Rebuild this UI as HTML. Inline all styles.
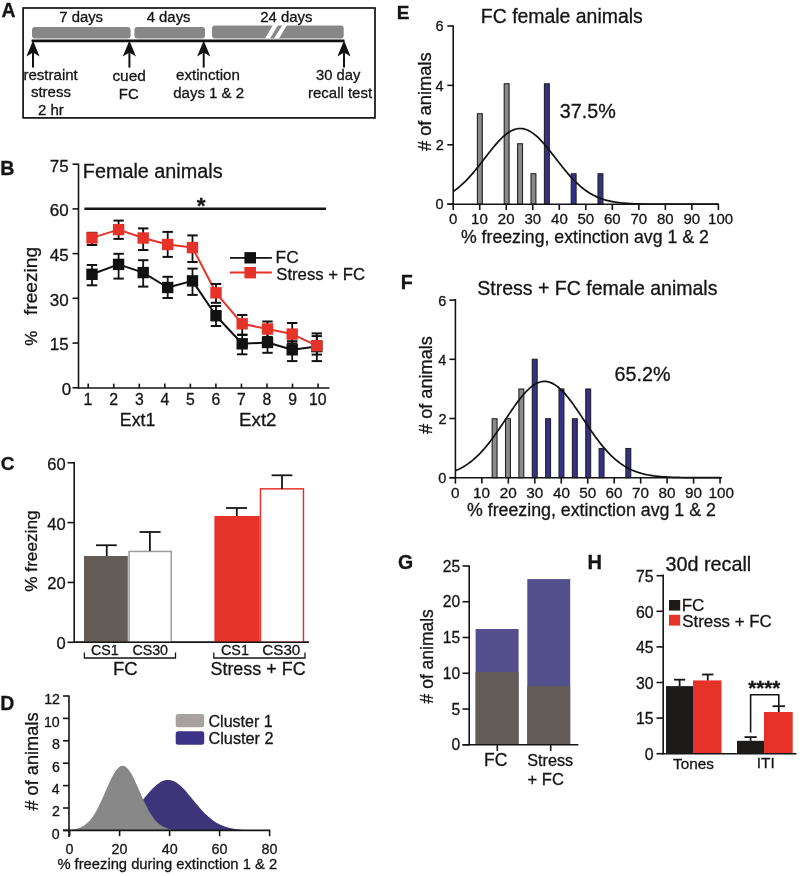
<!DOCTYPE html>
<html><head><meta charset="utf-8"><style>
html,body{margin:0;padding:0;background:#fff;}
svg{display:block;}
text{font-family:"Liberation Sans",sans-serif;stroke:#151515;stroke-width:0.3px;}
</style></head><body>
<svg style="will-change:transform" width="800" height="876" viewBox="0 0 800 876">
<rect width="800" height="876" fill="#fff"/>
<text x="1.51" y="17.00" font-size="19.40" font-weight="bold" fill="#151515">A</text>
<rect x="23.10" y="8.00" width="351.90" height="109.90" fill="none" stroke="#111" stroke-width="1.7" rx="0"/>
<rect x="32.00" y="27.00" width="98.60" height="11.50" fill="#878787" stroke="none" stroke-width="0" rx="3"/>
<rect x="134.40" y="27.00" width="70.60" height="11.50" fill="#878787" stroke="none" stroke-width="0" rx="3"/>
<rect x="212.00" y="25.60" width="131.70" height="12.90" fill="#878787" stroke="none" stroke-width="0" rx="3"/>
<path d="M265,38.6 L270,38.6 L278,25 L273,25 Z" fill="#fff" stroke="none" stroke-width="0" />
<path d="M274,38.6 L279,38.6 L287,25 L282.5,25 Z" fill="#fff" stroke="none" stroke-width="0" />
<line x1="31.60" y1="40.80" x2="344.50" y2="40.80" stroke="#111" stroke-width="2.8" stroke-linecap="butt"/>
<path d="M33,40.6 L39.6,56.6 L33,52.6 L26.4,56.6 Z" fill="#111" stroke="none" stroke-width="0" />
<line x1="33.00" y1="50.00" x2="33.00" y2="67.60" stroke="#111" stroke-width="2" stroke-linecap="butt"/>
<path d="M129.4,40.6 L136.0,56.6 L129.4,52.6 L122.80000000000001,56.6 Z" fill="#111" stroke="none" stroke-width="0" />
<line x1="129.40" y1="50.00" x2="129.40" y2="67.60" stroke="#111" stroke-width="2" stroke-linecap="butt"/>
<path d="M203.7,40.6 L210.29999999999998,56.6 L203.7,52.6 L197.1,56.6 Z" fill="#111" stroke="none" stroke-width="0" />
<line x1="203.70" y1="50.00" x2="203.70" y2="67.60" stroke="#111" stroke-width="2" stroke-linecap="butt"/>
<path d="M344,40.6 L350.6,56.6 L344,52.6 L337.4,56.6 Z" fill="#111" stroke="none" stroke-width="0" />
<line x1="344.00" y1="50.00" x2="344.00" y2="67.60" stroke="#111" stroke-width="2" stroke-linecap="butt"/>
<text x="59.26" y="22.00" font-size="14.86" font-weight="normal" fill="#151515">7 days</text>
<text x="146.70" y="22.00" font-size="14.88" font-weight="normal" fill="#151515">4 days</text>
<text x="260.25" y="22.00" font-size="14.91" font-weight="normal" fill="#151515">24 days</text>
<text x="23.52" y="80.10" font-size="15.03" font-weight="normal" fill="#151515">restraint</text>
<text x="30.95" y="97.40" font-size="15.00" font-weight="normal" fill="#151515">stress</text>
<text x="37.95" y="115.10" font-size="14.98" font-weight="normal" fill="#151515">2 hr</text>
<text x="112.38" y="81.25" font-size="15.44" font-weight="normal" fill="#151515">cued</text>
<text x="118.81" y="98.80" font-size="14.90" font-weight="normal" fill="#151515">FC</text>
<text x="176.10" y="79.70" font-size="15.12" font-weight="normal" fill="#151515">extinction</text>
<text x="173.20" y="97.60" font-size="15.02" font-weight="normal" fill="#151515">days 1 &amp; 2</text>
<text x="316.11" y="79.70" font-size="14.74" font-weight="normal" fill="#151515">30 day</text>
<text x="308.03" y="97.60" font-size="14.98" font-weight="normal" fill="#151515">recall test</text>
<text x="0.22" y="175.00" font-size="19.67" font-weight="bold" fill="#151515">B</text>
<line x1="78.50" y1="163.60" x2="78.50" y2="388.80" stroke="#151515" stroke-width="1.6" stroke-linecap="butt"/>
<line x1="72.50" y1="164.15" x2="78.50" y2="164.15" stroke="#151515" stroke-width="1.6" stroke-linecap="butt"/>
<text x="49.81" y="171.55" font-size="17.00" font-weight="normal" fill="#151515">75</text>
<line x1="72.50" y1="208.88" x2="78.50" y2="208.88" stroke="#151515" stroke-width="1.6" stroke-linecap="butt"/>
<text x="49.73" y="216.28" font-size="17.00" font-weight="normal" fill="#151515">60</text>
<line x1="72.50" y1="253.61" x2="78.50" y2="253.61" stroke="#151515" stroke-width="1.6" stroke-linecap="butt"/>
<text x="49.81" y="261.01" font-size="17.00" font-weight="normal" fill="#151515">45</text>
<line x1="72.50" y1="298.34" x2="78.50" y2="298.34" stroke="#151515" stroke-width="1.6" stroke-linecap="butt"/>
<text x="49.73" y="305.74" font-size="17.00" font-weight="normal" fill="#151515">30</text>
<line x1="72.50" y1="343.07" x2="78.50" y2="343.07" stroke="#151515" stroke-width="1.6" stroke-linecap="butt"/>
<text x="49.81" y="350.47" font-size="17.00" font-weight="normal" fill="#151515">15</text>
<line x1="72.50" y1="387.80" x2="78.50" y2="387.80" stroke="#151515" stroke-width="1.6" stroke-linecap="butt"/>
<text x="61.76" y="395.10" font-size="17.00" font-weight="normal" fill="#151515">0</text>
<line x1="78.50" y1="388.00" x2="329.50" y2="388.00" stroke="#151515" stroke-width="1.6" stroke-linecap="butt"/>
<line x1="88.20" y1="383.60" x2="88.20" y2="388.00" stroke="#151515" stroke-width="1.6" stroke-linecap="butt"/>
<text x="83.58" y="404.50" font-size="15.80" font-weight="normal" fill="#151515">1</text>
<line x1="113.74" y1="383.60" x2="113.74" y2="388.00" stroke="#151515" stroke-width="1.6" stroke-linecap="butt"/>
<text x="109.36" y="404.50" font-size="15.80" font-weight="normal" fill="#151515">2</text>
<line x1="139.28" y1="383.60" x2="139.28" y2="388.00" stroke="#151515" stroke-width="1.6" stroke-linecap="butt"/>
<text x="134.90" y="404.50" font-size="15.80" font-weight="normal" fill="#151515">3</text>
<line x1="164.82" y1="383.60" x2="164.82" y2="388.00" stroke="#151515" stroke-width="1.6" stroke-linecap="butt"/>
<text x="160.51" y="404.50" font-size="15.80" font-weight="normal" fill="#151515">4</text>
<line x1="190.36" y1="383.60" x2="190.36" y2="388.00" stroke="#151515" stroke-width="1.6" stroke-linecap="butt"/>
<text x="185.98" y="404.50" font-size="15.80" font-weight="normal" fill="#151515">5</text>
<line x1="215.90" y1="383.60" x2="215.90" y2="388.00" stroke="#151515" stroke-width="1.6" stroke-linecap="butt"/>
<text x="211.44" y="404.50" font-size="15.80" font-weight="normal" fill="#151515">6</text>
<line x1="241.44" y1="383.60" x2="241.44" y2="388.00" stroke="#151515" stroke-width="1.6" stroke-linecap="butt"/>
<text x="237.06" y="404.50" font-size="15.80" font-weight="normal" fill="#151515">7</text>
<line x1="266.98" y1="383.60" x2="266.98" y2="388.00" stroke="#151515" stroke-width="1.6" stroke-linecap="butt"/>
<text x="262.56" y="404.50" font-size="15.80" font-weight="normal" fill="#151515">8</text>
<line x1="292.52" y1="383.60" x2="292.52" y2="388.00" stroke="#151515" stroke-width="1.6" stroke-linecap="butt"/>
<text x="288.14" y="404.50" font-size="15.80" font-weight="normal" fill="#151515">9</text>
<line x1="318.06" y1="383.60" x2="318.06" y2="388.00" stroke="#151515" stroke-width="1.6" stroke-linecap="butt"/>
<text x="308.98" y="404.50" font-size="15.80" font-weight="normal" fill="#151515">10</text>
<text x="119.83" y="425.60" font-size="17.73" font-weight="normal" fill="#151515">Ext1</text>
<text x="239.10" y="426.40" font-size="18.72" font-weight="normal" fill="#151515">Ext2</text>
<text transform="translate(36.60,314.99) rotate(-90)" x="0" y="0" font-size="19.14" font-weight="normal" fill="#151515">freezing</text>
<text transform="translate(36.80,345.69) rotate(-90)" x="0" y="0" font-size="16.95" font-weight="normal" fill="#151515">%</text>
<text x="82.81" y="178.10" font-size="19.81" font-weight="normal" fill="#151515">Female animals</text>
<line x1="84.40" y1="208.80" x2="326.00" y2="208.80" stroke="#151515" stroke-width="2.4" stroke-linecap="butt"/>
<text x="196.69" y="212.60" font-size="22.63" font-weight="bold" fill="#151515">*</text>
<path d="M92.0,274.3 L118.6,264.4 L143.2,272.6 L167.7,287.5 L192.5,280.9 L216.0,315.7 L242.2,343.8 L267.5,342.5 L292.2,349.8 L316.8,346.6" fill="none" stroke="#111" stroke-width="2" stroke-linejoin="round"/>
<line x1="92.00" y1="265.00" x2="92.00" y2="285.30" stroke="#111" stroke-width="1.8" stroke-linecap="butt"/>
<line x1="86.80" y1="265.00" x2="97.20" y2="265.00" stroke="#111" stroke-width="2" stroke-linecap="butt"/>
<line x1="86.80" y1="285.30" x2="97.20" y2="285.30" stroke="#111" stroke-width="2" stroke-linecap="butt"/>
<line x1="118.60" y1="253.80" x2="118.60" y2="278.60" stroke="#111" stroke-width="1.8" stroke-linecap="butt"/>
<line x1="113.40" y1="253.80" x2="123.80" y2="253.80" stroke="#111" stroke-width="2" stroke-linecap="butt"/>
<line x1="113.40" y1="278.60" x2="123.80" y2="278.60" stroke="#111" stroke-width="2" stroke-linecap="butt"/>
<line x1="143.20" y1="260.20" x2="143.20" y2="286.60" stroke="#111" stroke-width="1.8" stroke-linecap="butt"/>
<line x1="138.00" y1="260.20" x2="148.40" y2="260.20" stroke="#111" stroke-width="2" stroke-linecap="butt"/>
<line x1="138.00" y1="286.60" x2="148.40" y2="286.60" stroke="#111" stroke-width="2" stroke-linecap="butt"/>
<line x1="167.70" y1="276.80" x2="167.70" y2="298.00" stroke="#111" stroke-width="1.8" stroke-linecap="butt"/>
<line x1="162.50" y1="276.80" x2="172.90" y2="276.80" stroke="#111" stroke-width="2" stroke-linecap="butt"/>
<line x1="162.50" y1="298.00" x2="172.90" y2="298.00" stroke="#111" stroke-width="2" stroke-linecap="butt"/>
<line x1="192.50" y1="268.60" x2="192.50" y2="294.90" stroke="#111" stroke-width="1.8" stroke-linecap="butt"/>
<line x1="187.30" y1="268.60" x2="197.70" y2="268.60" stroke="#111" stroke-width="2" stroke-linecap="butt"/>
<line x1="187.30" y1="294.90" x2="197.70" y2="294.90" stroke="#111" stroke-width="2" stroke-linecap="butt"/>
<line x1="216.00" y1="306.00" x2="216.00" y2="326.00" stroke="#111" stroke-width="1.8" stroke-linecap="butt"/>
<line x1="210.80" y1="306.00" x2="221.20" y2="306.00" stroke="#111" stroke-width="2" stroke-linecap="butt"/>
<line x1="210.80" y1="326.00" x2="221.20" y2="326.00" stroke="#111" stroke-width="2" stroke-linecap="butt"/>
<line x1="242.20" y1="335.00" x2="242.20" y2="354.30" stroke="#111" stroke-width="1.8" stroke-linecap="butt"/>
<line x1="237.00" y1="335.00" x2="247.40" y2="335.00" stroke="#111" stroke-width="2" stroke-linecap="butt"/>
<line x1="237.00" y1="354.30" x2="247.40" y2="354.30" stroke="#111" stroke-width="2" stroke-linecap="butt"/>
<line x1="267.50" y1="333.00" x2="267.50" y2="352.80" stroke="#111" stroke-width="1.8" stroke-linecap="butt"/>
<line x1="262.30" y1="333.00" x2="272.70" y2="333.00" stroke="#111" stroke-width="2" stroke-linecap="butt"/>
<line x1="262.30" y1="352.80" x2="272.70" y2="352.80" stroke="#111" stroke-width="2" stroke-linecap="butt"/>
<line x1="292.20" y1="341.20" x2="292.20" y2="361.10" stroke="#111" stroke-width="1.8" stroke-linecap="butt"/>
<line x1="287.00" y1="341.20" x2="297.40" y2="341.20" stroke="#111" stroke-width="2" stroke-linecap="butt"/>
<line x1="287.00" y1="361.10" x2="297.40" y2="361.10" stroke="#111" stroke-width="2" stroke-linecap="butt"/>
<line x1="316.80" y1="336.10" x2="316.80" y2="361.10" stroke="#111" stroke-width="1.8" stroke-linecap="butt"/>
<line x1="311.60" y1="336.10" x2="322.00" y2="336.10" stroke="#111" stroke-width="2" stroke-linecap="butt"/>
<line x1="311.60" y1="361.10" x2="322.00" y2="361.10" stroke="#111" stroke-width="2" stroke-linecap="butt"/>
<rect x="86.30" y="268.60" width="11.40" height="11.40" fill="#111" stroke="none" stroke-width="0" rx="0"/>
<rect x="112.90" y="258.70" width="11.40" height="11.40" fill="#111" stroke="none" stroke-width="0" rx="0"/>
<rect x="137.50" y="266.90" width="11.40" height="11.40" fill="#111" stroke="none" stroke-width="0" rx="0"/>
<rect x="162.00" y="281.80" width="11.40" height="11.40" fill="#111" stroke="none" stroke-width="0" rx="0"/>
<rect x="186.80" y="275.20" width="11.40" height="11.40" fill="#111" stroke="none" stroke-width="0" rx="0"/>
<rect x="210.30" y="310.00" width="11.40" height="11.40" fill="#111" stroke="none" stroke-width="0" rx="0"/>
<rect x="236.50" y="338.10" width="11.40" height="11.40" fill="#111" stroke="none" stroke-width="0" rx="0"/>
<rect x="261.80" y="336.80" width="11.40" height="11.40" fill="#111" stroke="none" stroke-width="0" rx="0"/>
<rect x="286.50" y="344.10" width="11.40" height="11.40" fill="#111" stroke="none" stroke-width="0" rx="0"/>
<rect x="311.10" y="340.90" width="11.40" height="11.40" fill="#111" stroke="none" stroke-width="0" rx="0"/>
<path d="M92.0,237.9 L118.6,229.6 L143.2,238.0 L167.7,244.5 L192.5,247.6 L216.0,292.8 L242.2,323.8 L267.5,329.0 L292.2,334.1 L316.8,345.7" fill="none" stroke="#e6332a" stroke-width="2" stroke-linejoin="round"/>
<line x1="92.00" y1="232.80" x2="92.00" y2="245.00" stroke="#111" stroke-width="1.8" stroke-linecap="butt"/>
<line x1="86.80" y1="232.80" x2="97.20" y2="232.80" stroke="#111" stroke-width="2" stroke-linecap="butt"/>
<line x1="86.80" y1="245.00" x2="97.20" y2="245.00" stroke="#111" stroke-width="2" stroke-linecap="butt"/>
<line x1="118.60" y1="220.60" x2="118.60" y2="238.90" stroke="#111" stroke-width="1.8" stroke-linecap="butt"/>
<line x1="113.40" y1="220.60" x2="123.80" y2="220.60" stroke="#111" stroke-width="2" stroke-linecap="butt"/>
<line x1="113.40" y1="238.90" x2="123.80" y2="238.90" stroke="#111" stroke-width="2" stroke-linecap="butt"/>
<line x1="143.20" y1="228.40" x2="143.20" y2="250.00" stroke="#111" stroke-width="1.8" stroke-linecap="butt"/>
<line x1="138.00" y1="228.40" x2="148.40" y2="228.40" stroke="#111" stroke-width="2" stroke-linecap="butt"/>
<line x1="138.00" y1="250.00" x2="148.40" y2="250.00" stroke="#111" stroke-width="2" stroke-linecap="butt"/>
<line x1="167.70" y1="231.90" x2="167.70" y2="256.90" stroke="#111" stroke-width="1.8" stroke-linecap="butt"/>
<line x1="162.50" y1="231.90" x2="172.90" y2="231.90" stroke="#111" stroke-width="2" stroke-linecap="butt"/>
<line x1="162.50" y1="256.90" x2="172.90" y2="256.90" stroke="#111" stroke-width="2" stroke-linecap="butt"/>
<line x1="192.50" y1="235.40" x2="192.50" y2="262.00" stroke="#111" stroke-width="1.8" stroke-linecap="butt"/>
<line x1="187.30" y1="235.40" x2="197.70" y2="235.40" stroke="#111" stroke-width="2" stroke-linecap="butt"/>
<line x1="187.30" y1="262.00" x2="197.70" y2="262.00" stroke="#111" stroke-width="2" stroke-linecap="butt"/>
<line x1="216.00" y1="284.00" x2="216.00" y2="302.80" stroke="#111" stroke-width="1.8" stroke-linecap="butt"/>
<line x1="210.80" y1="284.00" x2="221.20" y2="284.00" stroke="#111" stroke-width="2" stroke-linecap="butt"/>
<line x1="210.80" y1="302.80" x2="221.20" y2="302.80" stroke="#111" stroke-width="2" stroke-linecap="butt"/>
<line x1="242.20" y1="315.00" x2="242.20" y2="334.60" stroke="#111" stroke-width="1.8" stroke-linecap="butt"/>
<line x1="237.00" y1="315.00" x2="247.40" y2="315.00" stroke="#111" stroke-width="2" stroke-linecap="butt"/>
<line x1="237.00" y1="334.60" x2="247.40" y2="334.60" stroke="#111" stroke-width="2" stroke-linecap="butt"/>
<line x1="267.50" y1="321.50" x2="267.50" y2="336.90" stroke="#111" stroke-width="1.8" stroke-linecap="butt"/>
<line x1="262.30" y1="321.50" x2="272.70" y2="321.50" stroke="#111" stroke-width="2" stroke-linecap="butt"/>
<line x1="262.30" y1="336.90" x2="272.70" y2="336.90" stroke="#111" stroke-width="2" stroke-linecap="butt"/>
<line x1="292.20" y1="323.00" x2="292.20" y2="343.40" stroke="#111" stroke-width="1.8" stroke-linecap="butt"/>
<line x1="287.00" y1="323.00" x2="297.40" y2="323.00" stroke="#111" stroke-width="2" stroke-linecap="butt"/>
<line x1="287.00" y1="343.40" x2="297.40" y2="343.40" stroke="#111" stroke-width="2" stroke-linecap="butt"/>
<line x1="316.80" y1="333.40" x2="316.80" y2="354.60" stroke="#111" stroke-width="1.8" stroke-linecap="butt"/>
<line x1="311.60" y1="333.40" x2="322.00" y2="333.40" stroke="#111" stroke-width="2" stroke-linecap="butt"/>
<line x1="311.60" y1="354.60" x2="322.00" y2="354.60" stroke="#111" stroke-width="2" stroke-linecap="butt"/>
<rect x="86.30" y="232.20" width="11.40" height="11.40" fill="#e6332a" stroke="none" stroke-width="0" rx="0"/>
<rect x="112.90" y="223.90" width="11.40" height="11.40" fill="#e6332a" stroke="none" stroke-width="0" rx="0"/>
<rect x="137.50" y="232.30" width="11.40" height="11.40" fill="#e6332a" stroke="none" stroke-width="0" rx="0"/>
<rect x="162.00" y="238.80" width="11.40" height="11.40" fill="#e6332a" stroke="none" stroke-width="0" rx="0"/>
<rect x="186.80" y="241.90" width="11.40" height="11.40" fill="#e6332a" stroke="none" stroke-width="0" rx="0"/>
<rect x="210.30" y="287.10" width="11.40" height="11.40" fill="#e6332a" stroke="none" stroke-width="0" rx="0"/>
<rect x="236.50" y="318.10" width="11.40" height="11.40" fill="#e6332a" stroke="none" stroke-width="0" rx="0"/>
<rect x="261.80" y="323.30" width="11.40" height="11.40" fill="#e6332a" stroke="none" stroke-width="0" rx="0"/>
<rect x="286.50" y="328.40" width="11.40" height="11.40" fill="#e6332a" stroke="none" stroke-width="0" rx="0"/>
<rect x="311.10" y="340.00" width="11.40" height="11.40" fill="#e6332a" stroke="none" stroke-width="0" rx="0"/>
<line x1="230.00" y1="257.90" x2="271.90" y2="257.90" stroke="#111" stroke-width="1.8" stroke-linecap="butt"/>
<rect x="244.40" y="252.10" width="11.60" height="11.40" fill="#111" stroke="none" stroke-width="0" rx="0"/>
<text x="275.62" y="263.40" font-size="17.28" font-weight="normal" fill="#151515">FC</text>
<line x1="230.00" y1="272.50" x2="271.90" y2="272.50" stroke="#e6332a" stroke-width="1.8" stroke-linecap="butt"/>
<rect x="244.40" y="267.00" width="11.60" height="11.40" fill="#e6332a" stroke="none" stroke-width="0" rx="0"/>
<text x="276.25" y="279.60" font-size="16.73" font-weight="normal" fill="#151515">Stress + FC</text>
<text x="0.74" y="469.75" font-size="19.08" font-weight="bold" fill="#151515">C</text>
<line x1="74.20" y1="462.00" x2="74.20" y2="643.00" stroke="#151515" stroke-width="1.6" stroke-linecap="butt"/>
<line x1="67.50" y1="462.75" x2="74.20" y2="462.75" stroke="#151515" stroke-width="1.6" stroke-linecap="butt"/>
<text x="47.26" y="469.75" font-size="16.50" font-weight="normal" fill="#151515">60</text>
<line x1="67.50" y1="522.60" x2="74.20" y2="522.60" stroke="#151515" stroke-width="1.6" stroke-linecap="butt"/>
<text x="47.26" y="529.60" font-size="16.50" font-weight="normal" fill="#151515">40</text>
<line x1="67.50" y1="582.45" x2="74.20" y2="582.45" stroke="#151515" stroke-width="1.6" stroke-linecap="butt"/>
<text x="47.26" y="589.45" font-size="16.50" font-weight="normal" fill="#151515">20</text>
<line x1="67.50" y1="642.30" x2="74.20" y2="642.30" stroke="#151515" stroke-width="1.6" stroke-linecap="butt"/>
<text x="56.42" y="649.30" font-size="16.50" font-weight="normal" fill="#151515">0</text>
<line x1="74.20" y1="642.30" x2="308.80" y2="642.30" stroke="#151515" stroke-width="1.6" stroke-linecap="butt"/>
<rect x="84.00" y="556.00" width="43.80" height="86.30" fill="#645c57" stroke="none" stroke-width="0" rx="0"/>
<line x1="106.75" y1="545.25" x2="106.75" y2="556.00" stroke="#151515" stroke-width="1.8" stroke-linecap="butt"/>
<line x1="96.00" y1="545.25" x2="116.80" y2="545.25" stroke="#151515" stroke-width="1.8" stroke-linecap="butt"/>
<rect x="129.05" y="551.45" width="42.20" height="90.85" fill="#fff" stroke="#a19b99" stroke-width="1.5" rx="0"/>
<line x1="149.90" y1="532.00" x2="149.90" y2="551.00" stroke="#151515" stroke-width="1.8" stroke-linecap="butt"/>
<line x1="139.50" y1="532.00" x2="160.60" y2="532.00" stroke="#151515" stroke-width="1.8" stroke-linecap="butt"/>
<rect x="214.40" y="516.00" width="45.30" height="126.30" fill="#e6332a" stroke="none" stroke-width="0" rx="0"/>
<line x1="236.80" y1="508.00" x2="236.80" y2="516.00" stroke="#151515" stroke-width="1.8" stroke-linecap="butt"/>
<line x1="226.00" y1="508.00" x2="247.10" y2="508.00" stroke="#151515" stroke-width="1.8" stroke-linecap="butt"/>
<rect x="260.45" y="488.85" width="43.00" height="153.45" fill="#fff" stroke="#e6332a" stroke-width="1.5" rx="0"/>
<line x1="282.00" y1="475.30" x2="282.00" y2="489.00" stroke="#151515" stroke-width="1.8" stroke-linecap="butt"/>
<line x1="271.60" y1="475.30" x2="292.40" y2="475.30" stroke="#151515" stroke-width="1.8" stroke-linecap="butt"/>
<line x1="74.20" y1="642.30" x2="308.80" y2="642.30" stroke="#151515" stroke-width="1.6" stroke-linecap="butt"/>
<text x="90.89" y="655.30" font-size="14.27" font-weight="normal" fill="#151515">CS1</text>
<text x="132.39" y="655.30" font-size="14.24" font-weight="normal" fill="#151515">CS30</text>
<text x="221.03" y="655.40" font-size="14.35" font-weight="normal" fill="#151515">CS1</text>
<text x="262.24" y="655.40" font-size="15.22" font-weight="normal" fill="#151515">CS30</text>
<path d="M84.4,652.5 L84.4,658 L175.5,658 L175.5,652.5" fill="none" stroke="#151515" stroke-width="1.3" />
<path d="M213.8,652.5 L213.8,658 L305,658 L305,652.5" fill="none" stroke="#151515" stroke-width="1.3" />
<text x="113.02" y="675.40" font-size="18.52" font-weight="normal" fill="#151515">FC</text>
<text x="210.44" y="674.60" font-size="17.94" font-weight="normal" fill="#151515">Stress + FC</text>
<text transform="translate(36.80,591.70) rotate(-90)" x="0" y="0" font-size="17.19" font-weight="normal" fill="#151515">% freezing</text>
<text x="0.23" y="709.50" font-size="19.51" font-weight="bold" fill="#151515">D</text>
<path d="M69,830.4 L69.00,830.38 L70.26,830.38 L71.51,830.37 L72.77,830.36 L74.03,830.36 L75.28,830.35 L76.54,830.34 L77.79,830.32 L79.05,830.31 L80.31,830.29 L81.56,830.27 L82.82,830.25 L84.08,830.22 L85.33,830.19 L86.59,830.15 L87.84,830.10 L89.10,830.05 L90.36,829.99 L91.61,829.93 L92.87,829.85 L94.12,829.76 L95.38,829.66 L96.64,829.54 L97.89,829.41 L99.15,829.26 L100.41,829.09 L101.66,828.91 L102.92,828.70 L104.17,828.46 L105.43,828.20 L106.69,827.90 L107.94,827.58 L109.20,827.22 L110.46,826.83 L111.71,826.40 L112.97,825.92 L114.22,825.40 L115.48,824.84 L116.74,824.23 L117.99,823.57 L119.25,822.86 L120.51,822.09 L121.76,821.27 L123.02,820.39 L124.28,819.46 L125.53,818.47 L126.79,817.42 L128.04,816.32 L129.30,815.16 L130.56,813.95 L131.81,812.69 L133.07,811.37 L134.32,810.02 L135.58,808.62 L136.84,807.18 L138.09,805.71 L139.35,804.21 L140.61,802.69 L141.86,801.16 L143.12,799.62 L144.38,798.09 L145.63,796.56 L146.89,795.05 L148.14,793.56 L149.40,792.11 L150.66,790.70 L151.91,789.34 L153.17,788.05 L154.43,786.82 L155.68,785.67 L156.94,784.61 L158.19,783.64 L159.45,782.77 L160.71,782.00 L161.96,781.35 L163.22,780.82 L164.47,780.40 L165.73,780.11 L166.99,779.94 L168.24,779.90 L169.50,779.99 L170.76,780.21 L172.01,780.55 L173.27,781.01 L174.53,781.59 L175.78,782.29 L177.04,783.09 L178.29,784.00 L179.55,785.01 L180.81,786.11 L182.06,787.29 L183.32,788.54 L184.57,789.86 L185.83,791.24 L187.09,792.67 L188.34,794.13 L189.60,795.63 L190.86,797.15 L192.11,798.68 L193.37,800.22 L194.62,801.76 L195.88,803.29 L197.14,804.80 L198.39,806.28 L199.65,807.74 L200.91,809.16 L202.16,810.55 L203.42,811.89 L204.68,813.18 L205.93,814.43 L207.19,815.62 L208.44,816.75 L209.70,817.84 L210.96,818.86 L212.21,819.83 L213.47,820.74 L214.72,821.59 L215.98,822.39 L217.24,823.14 L218.49,823.83 L219.75,824.47 L221.01,825.07 L222.26,825.61 L223.52,826.11 L224.78,826.57 L226.03,826.99 L227.29,827.37 L228.54,827.71 L229.80,828.02 L231.06,828.30 L232.31,828.55 L233.57,828.78 L234.82,828.98 L236.08,829.16 L237.34,829.32 L238.59,829.46 L239.85,829.59 L241.11,829.70 L242.36,829.79 L243.62,829.88 L244.88,829.95 L246.13,830.02 L247.39,830.07 L248.64,830.12 L249.90,830.16 L251.16,830.20 L252.41,830.23 L253.67,830.26 L254.93,830.28 L256.18,830.30 L257.44,830.32 L258.69,830.33 L259.95,830.34 L261.21,830.35 L262.46,830.36 L263.72,830.37 L264.98,830.37 L266.23,830.38 L267.49,830.38 L268.74,830.38 L270.00,830.39 L270,830.4 Z" fill="#3d3479" stroke="none" stroke-width="0" />
<path d="M69,830.4 L69.00,829.95 L70.26,829.84 L71.51,829.69 L72.77,829.52 L74.03,829.31 L75.28,829.06 L76.54,828.76 L77.79,828.40 L79.05,827.97 L80.31,827.47 L81.56,826.89 L82.82,826.22 L84.08,825.44 L85.33,824.56 L86.59,823.55 L87.84,822.41 L89.10,821.13 L90.36,819.71 L91.61,818.13 L92.87,816.40 L94.12,814.51 L95.38,812.47 L96.64,810.27 L97.89,807.93 L99.15,805.45 L100.41,802.85 L101.66,800.14 L102.92,797.35 L104.17,794.49 L105.43,791.61 L106.69,788.72 L107.94,785.85 L109.20,783.05 L110.46,780.35 L111.71,777.78 L112.97,775.38 L114.22,773.18 L115.48,771.22 L116.74,769.53 L117.99,768.13 L119.25,767.04 L120.51,766.29 L121.76,765.88 L123.02,765.82 L124.28,766.11 L125.53,766.75 L126.79,767.73 L128.04,769.03 L129.30,770.63 L130.56,772.50 L131.81,774.62 L133.07,776.96 L134.32,779.47 L135.58,782.14 L136.84,784.91 L138.09,787.76 L139.35,790.64 L140.61,793.53 L141.86,796.40 L143.12,799.22 L144.38,801.96 L145.63,804.60 L146.89,807.12 L148.14,809.51 L149.40,811.75 L150.66,813.85 L151.91,815.79 L153.17,817.57 L154.43,819.20 L155.68,820.67 L156.94,822.00 L158.19,823.18 L159.45,824.24 L160.71,825.16 L161.96,825.97 L163.22,826.68 L164.47,827.29 L165.73,827.82 L166.99,828.26 L168.24,828.64 L169.50,828.96 L170.76,829.23 L172.01,829.45 L173.27,829.64 L174.53,829.79 L175.78,829.92 L177.04,830.02 L178.29,830.10 L179.55,830.16 L180.81,830.22 L182.06,830.26 L183.32,830.29 L184.57,830.32 L185.83,830.34 L187.09,830.35 L188.34,830.36 L189.60,830.37 L190.86,830.38 L192.11,830.38 L193.37,830.39 L194.62,830.39 L195.88,830.39 L197.14,830.40 L198.39,830.40 L199.65,830.40 L200.91,830.40 L202.16,830.40 L203.42,830.40 L204.68,830.40 L205.93,830.40 L207.19,830.40 L208.44,830.40 L209.70,830.40 L210.96,830.40 L212.21,830.40 L213.47,830.40 L214.72,830.40 L215.98,830.40 L217.24,830.40 L218.49,830.40 L219.75,830.40 L221.01,830.40 L222.26,830.40 L223.52,830.40 L224.78,830.40 L226.03,830.40 L227.29,830.40 L228.54,830.40 L229.80,830.40 L231.06,830.40 L232.31,830.40 L233.57,830.40 L234.82,830.40 L236.08,830.40 L237.34,830.40 L238.59,830.40 L239.85,830.40 L241.11,830.40 L242.36,830.40 L243.62,830.40 L244.88,830.40 L246.13,830.40 L247.39,830.40 L248.64,830.40 L249.90,830.40 L251.16,830.40 L252.41,830.40 L253.67,830.40 L254.93,830.40 L256.18,830.40 L257.44,830.40 L258.69,830.40 L259.95,830.40 L261.21,830.40 L262.46,830.40 L263.72,830.40 L264.98,830.40 L266.23,830.40 L267.49,830.40 L268.74,830.40 L270.00,830.40 L270,830.4 Z" fill="#888888" stroke="none" stroke-width="0" />
<line x1="69.00" y1="695.50" x2="69.00" y2="837.00" stroke="#151515" stroke-width="1.6" stroke-linecap="butt"/>
<line x1="63.00" y1="696.00" x2="69.00" y2="696.00" stroke="#151515" stroke-width="1.6" stroke-linecap="butt"/>
<text x="44.15" y="704.30" font-size="14.20" font-weight="normal" fill="#151515">12</text>
<line x1="63.00" y1="718.40" x2="69.00" y2="718.40" stroke="#151515" stroke-width="1.6" stroke-linecap="butt"/>
<text x="43.94" y="726.70" font-size="14.20" font-weight="normal" fill="#151515">10</text>
<line x1="63.00" y1="740.80" x2="69.00" y2="740.80" stroke="#151515" stroke-width="1.6" stroke-linecap="butt"/>
<text x="51.89" y="749.10" font-size="14.20" font-weight="normal" fill="#151515">8</text>
<line x1="63.00" y1="763.20" x2="69.00" y2="763.20" stroke="#151515" stroke-width="1.6" stroke-linecap="butt"/>
<text x="51.89" y="771.50" font-size="14.20" font-weight="normal" fill="#151515">6</text>
<line x1="63.00" y1="785.60" x2="69.00" y2="785.60" stroke="#151515" stroke-width="1.6" stroke-linecap="butt"/>
<text x="51.75" y="793.90" font-size="14.20" font-weight="normal" fill="#151515">4</text>
<line x1="63.00" y1="808.00" x2="69.00" y2="808.00" stroke="#151515" stroke-width="1.6" stroke-linecap="butt"/>
<text x="52.03" y="816.30" font-size="14.20" font-weight="normal" fill="#151515">2</text>
<line x1="63.00" y1="830.40" x2="69.00" y2="830.40" stroke="#151515" stroke-width="1.6" stroke-linecap="butt"/>
<text x="51.82" y="838.70" font-size="14.20" font-weight="normal" fill="#151515">0</text>
<line x1="63.00" y1="830.40" x2="270.30" y2="830.40" stroke="#151515" stroke-width="1.6" stroke-linecap="butt"/>
<line x1="69.60" y1="830.40" x2="69.60" y2="836.20" stroke="#151515" stroke-width="1.6" stroke-linecap="butt"/>
<text x="65.60" y="854.40" font-size="14.30" font-weight="normal" fill="#151515">0</text>
<line x1="119.60" y1="830.40" x2="119.60" y2="836.20" stroke="#151515" stroke-width="1.6" stroke-linecap="butt"/>
<text x="111.56" y="854.40" font-size="14.30" font-weight="normal" fill="#151515">20</text>
<line x1="169.60" y1="830.40" x2="169.60" y2="836.20" stroke="#151515" stroke-width="1.6" stroke-linecap="butt"/>
<text x="161.77" y="854.40" font-size="14.30" font-weight="normal" fill="#151515">40</text>
<line x1="219.60" y1="830.40" x2="219.60" y2="836.20" stroke="#151515" stroke-width="1.6" stroke-linecap="butt"/>
<text x="211.56" y="854.40" font-size="14.30" font-weight="normal" fill="#151515">60</text>
<line x1="269.60" y1="830.40" x2="269.60" y2="836.20" stroke="#151515" stroke-width="1.6" stroke-linecap="butt"/>
<text x="261.59" y="854.40" font-size="14.30" font-weight="normal" fill="#151515">80</text>
<text x="57.38" y="868.80" font-size="14.75" font-weight="normal" fill="#151515">% freezing during extinction 1 &amp; 2</text>
<text transform="translate(37.80,810.59) rotate(-90)" x="0" y="0" font-size="18.22" font-weight="normal" fill="#151515"># of animals</text>
<rect x="175.70" y="714.00" width="28.50" height="13.20" fill="#a8a1a1" stroke="none" stroke-width="0" rx="2.5"/>
<rect x="175.70" y="731.30" width="28.50" height="13.40" fill="#3c3387" stroke="none" stroke-width="0" rx="2.5"/>
<text x="208.50" y="726.75" font-size="16.06" font-weight="normal" fill="#151515">Cluster 1</text>
<text x="208.49" y="743.70" font-size="16.27" font-weight="normal" fill="#151515">Cluster 2</text>
<text x="396.76" y="19.40" font-size="19.03" font-weight="bold" fill="#151515">E</text>
<rect x="477.40" y="113.75" width="4.90" height="90.45" fill="#8a8a8a" stroke="#222" stroke-width="1.1" rx="0"/>
<rect x="504.20" y="83.75" width="4.90" height="120.45" fill="#8a8a8a" stroke="#222" stroke-width="1.1" rx="0"/>
<rect x="517.60" y="143.75" width="4.90" height="60.45" fill="#8a8a8a" stroke="#222" stroke-width="1.1" rx="0"/>
<rect x="531.00" y="173.75" width="4.90" height="30.45" fill="#8a8a8a" stroke="#222" stroke-width="1.1" rx="0"/>
<rect x="544.40" y="83.75" width="4.90" height="120.45" fill="#35318a" stroke="#222" stroke-width="1.1" rx="0"/>
<rect x="571.20" y="173.75" width="4.90" height="30.45" fill="#35318a" stroke="#222" stroke-width="1.1" rx="0"/>
<rect x="598.00" y="173.75" width="4.90" height="30.45" fill="#35318a" stroke="#222" stroke-width="1.1" rx="0"/>
<path d="M453.20,191.49 L454.31,190.73 L455.41,189.93 L456.51,189.11 L457.62,188.24 L458.72,187.35 L459.83,186.42 L460.94,185.46 L462.04,184.47 L463.14,183.45 L464.25,182.39 L465.35,181.30 L466.46,180.19 L467.56,179.04 L468.67,177.86 L469.77,176.65 L470.88,175.42 L471.99,174.16 L473.09,172.87 L474.19,171.56 L475.30,170.23 L476.40,168.88 L477.51,167.52 L478.62,166.13 L479.72,164.73 L480.82,163.33 L481.93,161.91 L483.03,160.48 L484.14,159.05 L485.25,157.62 L486.35,156.19 L487.45,154.77 L488.56,153.35 L489.66,151.94 L490.77,150.55 L491.88,149.17 L492.98,147.81 L494.08,146.47 L495.19,145.16 L496.29,143.88 L497.40,142.63 L498.50,141.41 L499.61,140.23 L500.71,139.10 L501.82,138.01 L502.93,136.96 L504.03,135.97 L505.13,135.02 L506.24,134.14 L507.34,133.31 L508.45,132.54 L509.56,131.83 L510.66,131.19 L511.76,130.61 L512.87,130.10 L513.98,129.65 L515.08,129.28 L516.18,128.98 L517.29,128.75 L518.39,128.60 L519.50,128.51 L520.61,128.51 L521.71,128.57 L522.82,128.71 L523.92,128.92 L525.02,129.20 L526.13,129.56 L527.24,129.98 L528.34,130.47 L529.44,131.04 L530.55,131.66 L531.65,132.36 L532.76,133.11 L533.87,133.93 L534.97,134.80 L536.08,135.73 L537.18,136.71 L538.28,137.74 L539.39,138.82 L540.50,139.95 L541.60,141.12 L542.71,142.32 L543.81,143.56 L544.91,144.84 L546.02,146.14 L547.12,147.47 L548.23,148.83 L549.34,150.20 L550.44,151.59 L551.54,153.00 L552.65,154.41 L553.75,155.84 L554.86,157.27 L555.97,158.70 L557.07,160.13 L558.17,161.55 L559.28,162.97 L560.38,164.39 L561.49,165.79 L562.60,167.17 L563.70,168.55 L564.81,169.90 L565.91,171.24 L567.01,172.55 L568.12,173.84 L569.23,175.11 L570.33,176.35 L571.43,177.56 L572.54,178.75 L573.64,179.90 L574.75,181.03 L575.86,182.13 L576.96,183.19 L578.07,184.22 L579.17,185.22 L580.27,186.19 L581.38,187.12 L582.49,188.03 L583.59,188.90 L584.69,189.73 L585.80,190.54 L586.90,191.31 L588.01,192.05 L589.12,192.76 L590.22,193.43 L591.33,194.08 L592.43,194.70 L593.53,195.29 L594.64,195.85 L595.75,196.38 L596.85,196.89 L597.96,197.37 L599.06,197.82 L600.16,198.25 L601.27,198.66 L602.38,199.04 L603.48,199.40 L604.59,199.74 L605.69,200.07 L606.79,200.37 L607.90,200.65 L609.00,200.91 L610.11,201.16 L611.22,201.39 L612.32,201.61 L613.42,201.81 L614.53,202.00 L615.63,202.18 L616.74,202.34 L617.85,202.49 L618.95,202.64 L620.05,202.77 L621.16,202.89 L622.26,203.00 L623.37,203.10 L624.48,203.20 L625.58,203.29 L626.68,203.37 L627.79,203.44 L628.89,203.51 L630.00,203.57 L631.11,203.63 L632.21,203.69 L633.32,203.73 L634.42,203.78 L635.52,203.82 L636.63,203.86 L637.74,203.89 L638.84,203.92 L639.95,203.95 L641.05,203.97 L642.15,204.00 L643.26,204.02 L644.37,204.04 L645.47,204.05 L646.58,204.07 L647.68,204.08 L648.78,204.09 L649.89,204.11 L651.00,204.12 L652.10,204.13 L653.21,204.13 L654.31,204.14 L655.41,204.15 L656.52,204.15 L657.62,204.16 L658.73,204.16 L659.84,204.17 L660.94,204.17 L662.04,204.17 L663.15,204.18 L664.25,204.18 L665.36,204.18 L666.47,204.18 L667.57,204.19 L668.67,204.19 L669.78,204.19 L670.88,204.19 L671.99,204.19 L673.10,204.19 L674.20,204.19 L675.31,204.19 L676.41,204.20 L677.51,204.20 L678.62,204.20 L679.73,204.20 L680.83,204.20 L681.93,204.20 L683.04,204.20 L684.14,204.20 L685.25,204.20 L686.36,204.20 L687.46,204.20 L688.57,204.20 L689.67,204.20 L690.77,204.20 L691.88,204.20 L692.99,204.20 L694.09,204.20 L695.19,204.20 L696.30,204.20 L697.40,204.20 L698.51,204.20 L699.62,204.20 L700.72,204.20 L701.83,204.20 L702.93,204.20 L704.03,204.20 L705.14,204.20 L706.25,204.20 L707.35,204.20 L708.46,204.20 L709.56,204.20 L710.66,204.20 L711.77,204.20 L712.88,204.20 L713.98,204.20 L715.09,204.20 L716.19,204.20 L717.30,204.20 L718.40,204.20" fill="none" stroke="#111" stroke-width="1.7" />
<line x1="453.20" y1="25.40" x2="453.20" y2="204.20" stroke="#151515" stroke-width="1.6" stroke-linecap="butt"/>
<line x1="447.30" y1="26.00" x2="453.20" y2="26.00" stroke="#151515" stroke-width="1.6" stroke-linecap="butt"/>
<text x="435.53" y="31.20" font-size="14.50" font-weight="normal" fill="#151515">6</text>
<line x1="447.30" y1="85.40" x2="453.20" y2="85.40" stroke="#151515" stroke-width="1.6" stroke-linecap="butt"/>
<text x="435.39" y="90.60" font-size="14.50" font-weight="normal" fill="#151515">4</text>
<line x1="447.30" y1="144.80" x2="453.20" y2="144.80" stroke="#151515" stroke-width="1.6" stroke-linecap="butt"/>
<text x="435.68" y="150.00" font-size="14.50" font-weight="normal" fill="#151515">2</text>
<line x1="447.30" y1="204.20" x2="453.20" y2="204.20" stroke="#151515" stroke-width="1.6" stroke-linecap="butt"/>
<text x="435.46" y="209.40" font-size="14.50" font-weight="normal" fill="#151515">0</text>
<line x1="447.30" y1="204.20" x2="718.80" y2="204.20" stroke="#151515" stroke-width="1.6" stroke-linecap="butt"/>
<line x1="453.20" y1="204.20" x2="453.20" y2="210.00" stroke="#151515" stroke-width="1.6" stroke-linecap="butt"/>
<text x="449.00" y="223.90" font-size="15.00" font-weight="normal" fill="#151515">0</text>
<line x1="479.72" y1="204.20" x2="479.72" y2="210.00" stroke="#151515" stroke-width="1.6" stroke-linecap="butt"/>
<text x="471.09" y="223.90" font-size="15.00" font-weight="normal" fill="#151515">10</text>
<line x1="506.24" y1="204.20" x2="506.24" y2="210.00" stroke="#151515" stroke-width="1.6" stroke-linecap="butt"/>
<text x="497.80" y="223.90" font-size="15.00" font-weight="normal" fill="#151515">20</text>
<line x1="532.76" y1="204.20" x2="532.76" y2="210.00" stroke="#151515" stroke-width="1.6" stroke-linecap="butt"/>
<text x="524.40" y="223.90" font-size="15.00" font-weight="normal" fill="#151515">30</text>
<line x1="559.28" y1="204.20" x2="559.28" y2="210.00" stroke="#151515" stroke-width="1.6" stroke-linecap="butt"/>
<text x="551.07" y="223.90" font-size="15.00" font-weight="normal" fill="#151515">40</text>
<line x1="585.80" y1="204.20" x2="585.80" y2="210.00" stroke="#151515" stroke-width="1.6" stroke-linecap="butt"/>
<text x="577.44" y="223.90" font-size="15.00" font-weight="normal" fill="#151515">50</text>
<line x1="612.32" y1="204.20" x2="612.32" y2="210.00" stroke="#151515" stroke-width="1.6" stroke-linecap="butt"/>
<text x="603.88" y="223.90" font-size="15.00" font-weight="normal" fill="#151515">60</text>
<line x1="638.84" y1="204.20" x2="638.84" y2="210.00" stroke="#151515" stroke-width="1.6" stroke-linecap="butt"/>
<text x="630.40" y="223.90" font-size="15.00" font-weight="normal" fill="#151515">70</text>
<line x1="665.36" y1="204.20" x2="665.36" y2="210.00" stroke="#151515" stroke-width="1.6" stroke-linecap="butt"/>
<text x="656.96" y="223.90" font-size="15.00" font-weight="normal" fill="#151515">80</text>
<line x1="691.88" y1="204.20" x2="691.88" y2="210.00" stroke="#151515" stroke-width="1.6" stroke-linecap="butt"/>
<text x="683.48" y="223.90" font-size="15.00" font-weight="normal" fill="#151515">90</text>
<line x1="718.40" y1="204.20" x2="718.40" y2="210.00" stroke="#151515" stroke-width="1.6" stroke-linecap="butt"/>
<text x="708.11" y="223.90" font-size="15.00" font-weight="normal" fill="#151515">100</text>
<text x="460.98" y="242.80" font-size="17.70" font-weight="normal" fill="#151515">% freezing, extinction avg 1 &amp; 2</text>
<text x="480.85" y="22.50" font-size="19.43" font-weight="normal" fill="#151515">FC female animals</text>
<text x="559.71" y="117.60" font-size="19.75" font-weight="normal" fill="#151515">37.5%</text>
<text transform="translate(430.50,151.09) rotate(-90)" x="0" y="0" font-size="18.32" font-weight="normal" fill="#151515"># of animals</text>
<text x="400.63" y="288.75" font-size="19.61" font-weight="bold" fill="#151515">F</text>
<rect x="492.16" y="418.75" width="4.90" height="58.95" fill="#8a8a8a" stroke="#222" stroke-width="1.1" rx="0"/>
<rect x="505.53" y="418.75" width="4.90" height="58.95" fill="#8a8a8a" stroke="#222" stroke-width="1.1" rx="0"/>
<rect x="518.90" y="389.00" width="4.90" height="88.70" fill="#8a8a8a" stroke="#222" stroke-width="1.1" rx="0"/>
<rect x="532.27" y="359.25" width="4.90" height="118.45" fill="#35318a" stroke="#222" stroke-width="1.1" rx="0"/>
<rect x="545.64" y="418.75" width="4.90" height="58.95" fill="#35318a" stroke="#222" stroke-width="1.1" rx="0"/>
<rect x="559.01" y="389.00" width="4.90" height="88.70" fill="#35318a" stroke="#222" stroke-width="1.1" rx="0"/>
<rect x="572.38" y="418.75" width="4.90" height="58.95" fill="#35318a" stroke="#222" stroke-width="1.1" rx="0"/>
<rect x="585.75" y="389.00" width="4.90" height="88.70" fill="#35318a" stroke="#222" stroke-width="1.1" rx="0"/>
<rect x="599.12" y="448.50" width="4.90" height="29.20" fill="#35318a" stroke="#222" stroke-width="1.1" rx="0"/>
<rect x="625.86" y="448.50" width="4.90" height="29.20" fill="#35318a" stroke="#222" stroke-width="1.1" rx="0"/>
<path d="M455.40,470.74 L456.50,470.27 L457.61,469.78 L458.71,469.27 L459.81,468.73 L460.91,468.16 L462.02,467.56 L463.12,466.94 L464.22,466.28 L465.32,465.60 L466.43,464.88 L467.53,464.14 L468.63,463.36 L469.74,462.55 L470.84,461.71 L471.94,460.83 L473.04,459.92 L474.15,458.98 L475.25,458.00 L476.35,456.99 L477.45,455.94 L478.56,454.86 L479.66,453.74 L480.76,452.59 L481.86,451.41 L482.97,450.19 L484.07,448.94 L485.17,447.65 L486.28,446.33 L487.38,444.99 L488.48,443.61 L489.58,442.20 L490.69,440.76 L491.79,439.30 L492.89,437.81 L493.99,436.30 L495.10,434.76 L496.20,433.20 L497.30,431.62 L498.41,430.03 L499.51,428.42 L500.61,426.79 L501.71,425.16 L502.82,423.51 L503.92,421.86 L505.02,420.21 L506.12,418.55 L507.23,416.89 L508.33,415.24 L509.43,413.60 L510.54,411.96 L511.64,410.34 L512.74,408.73 L513.84,407.14 L514.95,405.58 L516.05,404.03 L517.15,402.52 L518.25,401.03 L519.36,399.58 L520.46,398.17 L521.56,396.79 L522.67,395.46 L523.77,394.17 L524.87,392.93 L525.97,391.74 L527.08,390.61 L528.18,389.53 L529.28,388.51 L530.38,387.55 L531.49,386.65 L532.59,385.82 L533.69,385.06 L534.79,384.36 L535.90,383.73 L537.00,383.18 L538.10,382.70 L539.21,382.29 L540.31,381.96 L541.41,381.70 L542.51,381.53 L543.62,381.43 L544.72,381.40 L545.82,381.46 L546.92,381.59 L548.03,381.79 L549.13,382.08 L550.23,382.44 L551.34,382.87 L552.44,383.38 L553.54,383.96 L554.64,384.62 L555.75,385.34 L556.85,386.13 L557.95,386.99 L559.05,387.91 L560.16,388.89 L561.26,389.94 L562.36,391.04 L563.47,392.19 L564.57,393.40 L565.67,394.66 L566.77,395.97 L567.88,397.32 L568.98,398.71 L570.08,400.14 L571.18,401.60 L572.29,403.10 L573.39,404.62 L574.49,406.18 L575.60,407.75 L576.70,409.35 L577.80,410.96 L578.90,412.59 L580.01,414.23 L581.11,415.88 L582.21,417.53 L583.31,419.19 L584.42,420.84 L585.52,422.50 L586.62,424.14 L587.73,425.79 L588.83,427.42 L589.93,429.04 L591.03,430.64 L592.14,432.23 L593.24,433.80 L594.34,435.35 L595.44,436.88 L596.55,438.38 L597.65,439.86 L598.75,441.32 L599.85,442.74 L600.96,444.14 L602.06,445.51 L603.16,446.84 L604.27,448.15 L605.37,449.42 L606.47,450.66 L607.57,451.87 L608.68,453.04 L609.78,454.17 L610.88,455.28 L611.98,456.35 L613.09,457.38 L614.19,458.38 L615.29,459.34 L616.40,460.28 L617.50,461.17 L618.60,462.04 L619.70,462.87 L620.81,463.66 L621.91,464.43 L623.01,465.16 L624.11,465.87 L625.22,466.54 L626.32,467.18 L627.42,467.79 L628.53,468.38 L629.63,468.94 L630.73,469.47 L631.83,469.97 L632.94,470.45 L634.04,470.91 L635.14,471.34 L636.24,471.75 L637.35,472.14 L638.45,472.50 L639.55,472.85 L640.65,473.18 L641.76,473.48 L642.86,473.77 L643.96,474.05 L645.07,474.30 L646.17,474.55 L647.27,474.77 L648.37,474.99 L649.48,475.18 L650.58,475.37 L651.68,475.55 L652.78,475.71 L653.89,475.86 L654.99,476.00 L656.09,476.13 L657.20,476.26 L658.30,476.37 L659.40,476.48 L660.50,476.58 L661.61,476.67 L662.71,476.75 L663.81,476.83 L664.91,476.90 L666.02,476.97 L667.12,477.03 L668.22,477.09 L669.33,477.14 L670.43,477.19 L671.53,477.24 L672.63,477.28 L673.74,477.32 L674.84,477.35 L675.94,477.38 L677.04,477.41 L678.15,477.44 L679.25,477.46 L680.35,477.49 L681.46,477.51 L682.56,477.52 L683.66,477.54 L684.76,477.56 L685.87,477.57 L686.97,477.58 L688.07,477.59 L689.17,477.61 L690.28,477.61 L691.38,477.62 L692.48,477.63 L693.59,477.64 L694.69,477.64 L695.79,477.65 L696.89,477.66 L698.00,477.66 L699.10,477.66 L700.20,477.67 L701.30,477.67 L702.41,477.67 L703.51,477.68 L704.61,477.68 L705.71,477.68 L706.82,477.68 L707.92,477.69 L709.02,477.69 L710.13,477.69 L711.23,477.69 L712.33,477.69 L713.43,477.69 L714.54,477.69 L715.64,477.69 L716.74,477.69 L717.84,477.70 L718.95,477.70 L720.05,477.70" fill="none" stroke="#111" stroke-width="1.7" />
<line x1="455.40" y1="298.90" x2="455.40" y2="477.70" stroke="#151515" stroke-width="1.6" stroke-linecap="butt"/>
<line x1="449.40" y1="300.10" x2="455.40" y2="300.10" stroke="#151515" stroke-width="1.6" stroke-linecap="butt"/>
<text x="438.33" y="305.70" font-size="14.50" font-weight="normal" fill="#151515">6</text>
<line x1="449.40" y1="359.30" x2="455.40" y2="359.30" stroke="#151515" stroke-width="1.6" stroke-linecap="butt"/>
<text x="438.19" y="364.90" font-size="14.50" font-weight="normal" fill="#151515">4</text>
<line x1="449.40" y1="418.50" x2="455.40" y2="418.50" stroke="#151515" stroke-width="1.6" stroke-linecap="butt"/>
<text x="438.48" y="424.10" font-size="14.50" font-weight="normal" fill="#151515">2</text>
<line x1="449.40" y1="477.70" x2="455.40" y2="477.70" stroke="#151515" stroke-width="1.6" stroke-linecap="butt"/>
<text x="438.26" y="483.30" font-size="14.50" font-weight="normal" fill="#151515">0</text>
<line x1="449.40" y1="477.70" x2="722.00" y2="477.70" stroke="#151515" stroke-width="1.6" stroke-linecap="butt"/>
<line x1="455.40" y1="477.70" x2="455.40" y2="483.60" stroke="#151515" stroke-width="1.6" stroke-linecap="butt"/>
<text x="451.12" y="497.70" font-size="15.30" font-weight="normal" fill="#151515">0</text>
<line x1="481.86" y1="477.70" x2="481.86" y2="483.60" stroke="#151515" stroke-width="1.6" stroke-linecap="butt"/>
<text x="473.07" y="497.70" font-size="15.30" font-weight="normal" fill="#151515">10</text>
<line x1="508.33" y1="477.70" x2="508.33" y2="483.60" stroke="#151515" stroke-width="1.6" stroke-linecap="butt"/>
<text x="499.72" y="497.70" font-size="15.30" font-weight="normal" fill="#151515">20</text>
<line x1="534.79" y1="477.70" x2="534.79" y2="483.60" stroke="#151515" stroke-width="1.6" stroke-linecap="butt"/>
<text x="526.27" y="497.70" font-size="15.30" font-weight="normal" fill="#151515">30</text>
<line x1="561.26" y1="477.70" x2="561.26" y2="483.60" stroke="#151515" stroke-width="1.6" stroke-linecap="butt"/>
<text x="552.88" y="497.70" font-size="15.30" font-weight="normal" fill="#151515">40</text>
<line x1="587.72" y1="477.70" x2="587.72" y2="483.60" stroke="#151515" stroke-width="1.6" stroke-linecap="butt"/>
<text x="579.20" y="497.70" font-size="15.30" font-weight="normal" fill="#151515">50</text>
<line x1="614.19" y1="477.70" x2="614.19" y2="483.60" stroke="#151515" stroke-width="1.6" stroke-linecap="butt"/>
<text x="605.58" y="497.70" font-size="15.30" font-weight="normal" fill="#151515">60</text>
<line x1="640.65" y1="477.70" x2="640.65" y2="483.60" stroke="#151515" stroke-width="1.6" stroke-linecap="butt"/>
<text x="632.05" y="497.70" font-size="15.30" font-weight="normal" fill="#151515">70</text>
<line x1="667.12" y1="477.70" x2="667.12" y2="483.60" stroke="#151515" stroke-width="1.6" stroke-linecap="butt"/>
<text x="658.55" y="497.70" font-size="15.30" font-weight="normal" fill="#151515">80</text>
<line x1="693.59" y1="477.70" x2="693.59" y2="483.60" stroke="#151515" stroke-width="1.6" stroke-linecap="butt"/>
<text x="685.02" y="497.70" font-size="15.30" font-weight="normal" fill="#151515">90</text>
<line x1="720.05" y1="477.70" x2="720.05" y2="483.60" stroke="#151515" stroke-width="1.6" stroke-linecap="butt"/>
<text x="708.51" y="497.70" font-size="15.30" font-weight="normal" fill="#151515">100</text>
<text x="466.98" y="515.70" font-size="17.77" font-weight="normal" fill="#151515">% freezing, extinction avg 1 &amp; 2</text>
<text x="477.22" y="295.35" font-size="19.53" font-weight="normal" fill="#151515">Stress + FC female animals</text>
<text x="614.61" y="381.00" font-size="19.78" font-weight="normal" fill="#151515">65.2%</text>
<text transform="translate(432.00,433.99) rotate(-90)" x="0" y="0" font-size="18.17" font-weight="normal" fill="#151515"># of animals</text>
<text x="397.97" y="568.75" font-size="19.48" font-weight="bold" fill="#151515">G</text>
<rect x="475.60" y="629.00" width="43.00" height="115.80" fill="#544f8d" stroke="none" stroke-width="0" rx="0"/>
<rect x="475.60" y="672.00" width="43.00" height="72.80" fill="#645c57" stroke="none" stroke-width="0" rx="0"/>
<rect x="527.30" y="579.10" width="42.90" height="165.70" fill="#544f8d" stroke="none" stroke-width="0" rx="0"/>
<rect x="527.30" y="686.10" width="42.90" height="58.70" fill="#645c57" stroke="none" stroke-width="0" rx="0"/>
<line x1="469.20" y1="565.50" x2="469.20" y2="745.60" stroke="#151515" stroke-width="1.6" stroke-linecap="butt"/>
<line x1="462.50" y1="565.97" x2="469.20" y2="565.97" stroke="#151515" stroke-width="1.6" stroke-linecap="butt"/>
<text x="442.81" y="571.57" font-size="15.60" font-weight="normal" fill="#151515">25</text>
<line x1="462.50" y1="601.74" x2="469.20" y2="601.74" stroke="#151515" stroke-width="1.6" stroke-linecap="butt"/>
<text x="442.73" y="607.34" font-size="15.60" font-weight="normal" fill="#151515">20</text>
<line x1="462.50" y1="637.50" x2="469.20" y2="637.50" stroke="#151515" stroke-width="1.6" stroke-linecap="butt"/>
<text x="442.81" y="643.11" font-size="15.60" font-weight="normal" fill="#151515">15</text>
<line x1="462.50" y1="673.27" x2="469.20" y2="673.27" stroke="#151515" stroke-width="1.6" stroke-linecap="butt"/>
<text x="442.73" y="678.87" font-size="15.60" font-weight="normal" fill="#151515">10</text>
<line x1="462.50" y1="709.03" x2="469.20" y2="709.03" stroke="#151515" stroke-width="1.6" stroke-linecap="butt"/>
<text x="451.47" y="714.63" font-size="15.60" font-weight="normal" fill="#151515">5</text>
<line x1="462.50" y1="744.80" x2="469.20" y2="744.80" stroke="#151515" stroke-width="1.6" stroke-linecap="butt"/>
<text x="451.39" y="750.40" font-size="15.60" font-weight="normal" fill="#151515">0</text>
<line x1="462.50" y1="744.80" x2="578.30" y2="744.80" stroke="#151515" stroke-width="1.6" stroke-linecap="butt"/>
<line x1="497.30" y1="744.80" x2="497.30" y2="751.00" stroke="#151515" stroke-width="1.6" stroke-linecap="butt"/>
<line x1="550.70" y1="744.80" x2="550.70" y2="751.00" stroke="#151515" stroke-width="1.6" stroke-linecap="butt"/>
<text x="484.00" y="765.70" font-size="17.53" font-weight="normal" fill="#151515">FC</text>
<text x="527.27" y="765.70" font-size="16.19" font-weight="normal" fill="#151515">Stress</text>
<text x="527.57" y="784.80" font-size="16.59" font-weight="normal" fill="#151515">+ FC</text>
<text transform="translate(433.00,703.39) rotate(-90)" x="0" y="0" font-size="17.48" font-weight="normal" fill="#151515"># of animals</text>
<text x="587.44" y="569.40" font-size="20.08" font-weight="bold" fill="#151515">H</text>
<text x="665.46" y="570.50" font-size="19.80" font-weight="normal" fill="#151515">30d recall</text>
<rect x="666.00" y="686.10" width="27.00" height="67.60" fill="#1d1b1a" stroke="none" stroke-width="0" rx="0"/>
<rect x="693.00" y="680.40" width="28.50" height="73.30" fill="#e6332a" stroke="none" stroke-width="0" rx="0"/>
<rect x="737.00" y="740.80" width="27.00" height="12.90" fill="#1d1b1a" stroke="none" stroke-width="0" rx="0"/>
<rect x="764.00" y="712.00" width="28.70" height="41.70" fill="#e6332a" stroke="none" stroke-width="0" rx="0"/>
<line x1="679.60" y1="679.70" x2="679.60" y2="686.10" stroke="#151515" stroke-width="1.8" stroke-linecap="butt"/>
<line x1="674.00" y1="679.70" x2="685.20" y2="679.70" stroke="#151515" stroke-width="1.8" stroke-linecap="butt"/>
<line x1="707.75" y1="674.50" x2="707.75" y2="680.40" stroke="#151515" stroke-width="1.8" stroke-linecap="butt"/>
<line x1="702.05" y1="674.50" x2="713.45" y2="674.50" stroke="#151515" stroke-width="1.8" stroke-linecap="butt"/>
<line x1="750.60" y1="737.10" x2="750.60" y2="740.80" stroke="#151515" stroke-width="1.8" stroke-linecap="butt"/>
<line x1="744.50" y1="737.10" x2="756.70" y2="737.10" stroke="#151515" stroke-width="1.8" stroke-linecap="butt"/>
<line x1="778.80" y1="706.20" x2="778.80" y2="712.00" stroke="#151515" stroke-width="1.8" stroke-linecap="butt"/>
<line x1="772.60" y1="706.20" x2="785.00" y2="706.20" stroke="#151515" stroke-width="1.8" stroke-linecap="butt"/>
<path d="M750.6,732.5 L750.6,694.8 L778.8,694.8 L778.8,706" fill="none" stroke="#151515" stroke-width="1.6" stroke-linejoin="round"/>
<text x="748.20" y="695.20" font-size="20.52" font-weight="bold" fill="#151515">****</text>
<line x1="663.20" y1="574.50" x2="663.20" y2="754.50" stroke="#151515" stroke-width="1.6" stroke-linecap="butt"/>
<line x1="656.50" y1="575.70" x2="663.20" y2="575.70" stroke="#151515" stroke-width="1.6" stroke-linecap="butt"/>
<text x="636.09" y="581.90" font-size="15.80" font-weight="normal" fill="#151515">75</text>
<line x1="656.50" y1="611.30" x2="663.20" y2="611.30" stroke="#151515" stroke-width="1.6" stroke-linecap="butt"/>
<text x="636.01" y="617.50" font-size="15.80" font-weight="normal" fill="#151515">60</text>
<line x1="656.50" y1="646.90" x2="663.20" y2="646.90" stroke="#151515" stroke-width="1.6" stroke-linecap="butt"/>
<text x="636.09" y="653.10" font-size="15.80" font-weight="normal" fill="#151515">45</text>
<line x1="656.50" y1="682.50" x2="663.20" y2="682.50" stroke="#151515" stroke-width="1.6" stroke-linecap="butt"/>
<text x="636.02" y="688.70" font-size="15.80" font-weight="normal" fill="#151515">30</text>
<line x1="656.50" y1="718.10" x2="663.20" y2="718.10" stroke="#151515" stroke-width="1.6" stroke-linecap="butt"/>
<text x="636.09" y="724.30" font-size="15.80" font-weight="normal" fill="#151515">15</text>
<line x1="656.50" y1="753.70" x2="663.20" y2="753.70" stroke="#151515" stroke-width="1.6" stroke-linecap="butt"/>
<text x="644.78" y="759.90" font-size="15.80" font-weight="normal" fill="#151515">0</text>
<line x1="663.20" y1="753.70" x2="796.50" y2="753.70" stroke="#151515" stroke-width="1.6" stroke-linecap="butt"/>
<rect x="669.00" y="600.00" width="11.20" height="10.60" fill="#1d1b1a" stroke="none" stroke-width="0" rx="0"/>
<rect x="669.00" y="614.80" width="11.20" height="10.80" fill="#e6332a" stroke="none" stroke-width="0" rx="0"/>
<text x="681.63" y="610.50" font-size="17.08" font-weight="normal" fill="#151515">FC</text>
<text x="682.24" y="626.75" font-size="16.89" font-weight="normal" fill="#151515">Stress + FC</text>
<text x="673.09" y="768.70" font-size="15.33" font-weight="normal" fill="#151515">Tones</text>
<text x="756.81" y="767.90" font-size="15.43" font-weight="normal" fill="#151515">ITI</text>
</svg></body></html>
